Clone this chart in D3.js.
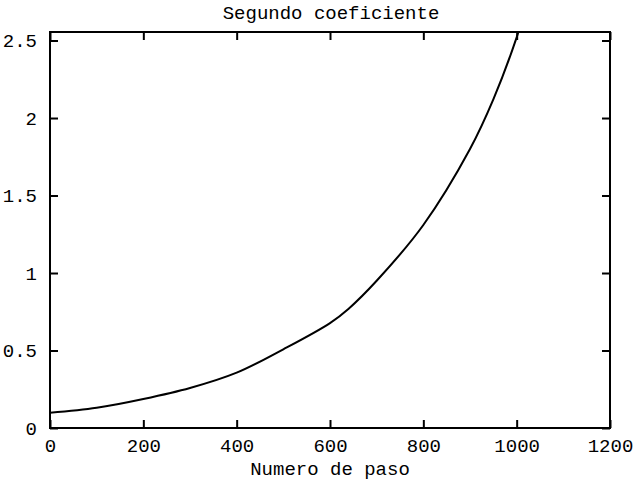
<!DOCTYPE html>
<html lang="es">
<head>
<meta charset="utf-8">
<script src="https://d3js.org/d3.v7.min.js"></script>
<style>
  body { margin: 0; background: #fff; }
  text { font-family: "Liberation Mono", "DejaVu Sans Mono", monospace; fill: #000; }
</style>
</head>
<body>
<script>
// values
var pasos = [0, 100, 200, 300, 400, 500, 600, 640, 700, 800, 900, 950, 1000, 1004];
var coef  = [0.098, 0.13, 0.187, 0.258, 0.357, 0.508, 0.677, 0.77, 0.95, 1.31, 1.80, 2.12, 2.52, 2.56];
var xTicks = [0, 200, 400, 600, 800, 1000, 1200];
var yTicks = [0, 0.5, 1, 1.5, 2, 2.5];
var yTickLabels = ["0", "0.5", "1", "1.5", "2", "2.5"];

var width = 636, height = 482;
var margin = {top: 32, right: 26, bottom: 54, left: 50};
var w = width - margin.left - margin.right,
    h = height - margin.top - margin.bottom;
var fs = 19;

var svg = d3.select("body").append("svg")
    .attr("width", width)
    .attr("height", height);

svg.append("rect").attr("width", width).attr("height", height).attr("fill", "#fff");

var g = svg.append("g")
    .attr("transform", "translate(" + margin.left + "," + margin.top + ")");

var x = d3.scaleLinear().domain([0, 1200]).range([0, w]);
var y = d3.scaleLinear().domain([0, 2.555]).range([h, 0]);

g.append("clipPath").attr("id", "clip")
  .append("rect").attr("width", w).attr("height", h);

// the curve
var line = d3.line()
    .x(function(d, i) { return x(pasos[i]); })
    .y(function(d) { return y(d); })
    .curve(d3.curveCatmullRom.alpha(0.5));

g.append("path")
  .datum(coef)
  .attr("clip-path", "url(#clip)")
  .attr("fill", "none")
  .attr("stroke", "#000")
  .attr("stroke-width", 2)
  .attr("d", line);

// inward ticks on all four sides
var tk = 8;
var axBottom = d3.axisBottom(x).tickValues(xTicks).tickSize(-tk).tickPadding(11)
    .tickFormat(d3.format("d"));
var axTop = d3.axisTop(x).tickValues(xTicks).tickSize(-tk).tickFormat("");
var axLeft = d3.axisLeft(y).tickValues(yTicks).tickSize(-tk).tickPadding(13)
    .tickFormat(function(d, i) { return yTickLabels[i]; });
var axRight = d3.axisRight(y).tickValues(yTicks).tickSize(-tk).tickFormat("");

function style(sel) {
  sel.select(".domain").remove();
  sel.selectAll(".tick line").attr("stroke", "#000").attr("stroke-width", 2);
  sel.selectAll("text").attr("font-size", fs).attr("font-family", null);
}

g.append("g").attr("transform", "translate(0," + h + ")").call(axBottom).call(style);
g.append("g").call(axTop).call(style);
g.append("g").call(axLeft).call(style);
g.append("g").attr("transform", "translate(" + w + ",0)").call(axRight).call(style);

// border
g.append("rect")
  .attr("width", w).attr("height", h)
  .attr("fill", "none").attr("stroke", "#000").attr("stroke-width", 2);

// title and label
svg.append("text")
  .attr("x", 331).attr("y", 19)
  .attr("text-anchor", "middle").attr("font-size", fs)
  .text("Segundo coeficiente");

svg.append("text")
  .attr("x", 330).attr("y", 475)
  .attr("text-anchor", "middle").attr("font-size", fs)
  .text("Numero de paso");
</script>
</body>
</html>
